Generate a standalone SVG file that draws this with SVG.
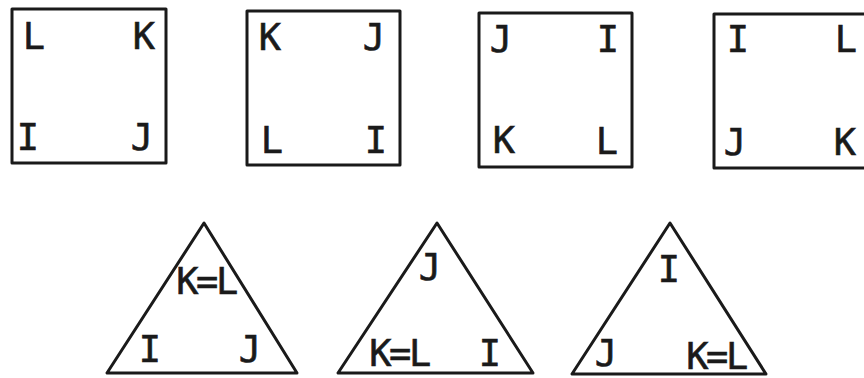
<svg xmlns="http://www.w3.org/2000/svg" width="864" height="378" viewBox="0 0 864 378">
<style>
.shape{fill:none;stroke:#1a1a1a;stroke-width:3;stroke-linejoin:round}
.lbl{font-family:"DejaVu Sans Mono","Liberation Mono",monospace;font-size:37px;fill:#1a1a1a;stroke:#1a1a1a;stroke-width:0.6;text-anchor:middle}
.eq{letter-spacing:-2.5px}
</style>
<rect width="864" height="378" fill="#ffffff"/>
<g id="square1">
<rect class="shape" x="12" y="9" width="154" height="154"/>
<text class="lbl" x="34" y="49">L</text>
<text class="lbl" x="144" y="49">K</text>
<text class="lbl" x="28" y="150">I</text>
<text class="lbl" x="142" y="150">J</text>
</g>
<g id="square2">
<rect class="shape" x="247" y="11" width="153" height="154"/>
<text class="lbl" x="270" y="50">K</text>
<text class="lbl" x="374" y="50">J</text>
<text class="lbl" x="272" y="153">L</text>
<text class="lbl" x="376" y="153">I</text>
</g>
<g id="square3">
<rect class="shape" x="479" y="13" width="153" height="154"/>
<text class="lbl" x="501" y="52">J</text>
<text class="lbl" x="608" y="52">I</text>
<text class="lbl" x="504" y="153">K</text>
<text class="lbl" x="607" y="154">L</text>
</g>
<g id="square4">
<rect class="shape" x="714" y="14" width="154" height="154"/>
<text class="lbl" x="738" y="52">I</text>
<text class="lbl" x="846" y="52">L</text>
<text class="lbl" x="735" y="155">J</text>
<text class="lbl" x="845" y="155">K</text>
</g>
<g id="triangle1">
<polygon class="shape" points="204,223 107,373 297,373"/>
<text class="lbl eq" x="206" y="294">K=L</text>
<text class="lbl" x="150" y="362">I</text>
<text class="lbl" x="250" y="362">J</text>
</g>
<g id="triangle2">
<polygon class="shape" points="437,223 338,373 533,373"/>
<text class="lbl" x="430" y="280">J</text>
<text class="lbl eq" x="399" y="366">K=L</text>
<text class="lbl" x="490" y="366">I</text>
</g>
<g id="triangle3">
<polygon class="shape" points="670,223 572,374 766,374"/>
<text class="lbl" x="669" y="282">I</text>
<text class="lbl" x="606" y="366">J</text>
<text class="lbl eq" x="716" y="369">K=L</text>
</g>
</svg>
